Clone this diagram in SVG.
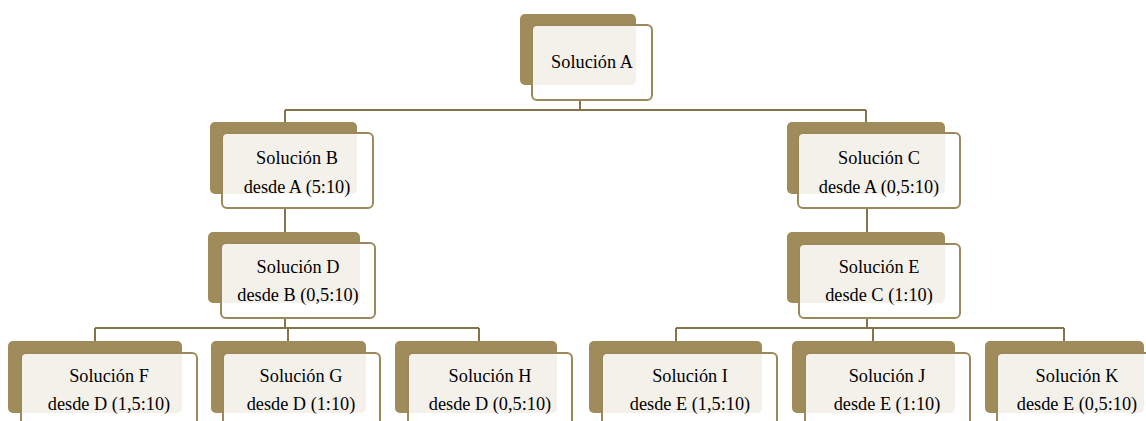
<svg xmlns="http://www.w3.org/2000/svg" width="1146" height="421" viewBox="0 0 1146 421">
<style>
.back{fill:#A08B5A;}
.front{fill:#FFFFFF;fill-opacity:0.88;stroke:#9C885A;stroke-width:2;}
.t{font-family:"Liberation Serif","Times New Roman","DejaVu Serif",serif;font-size:18.3px;fill:#000000;text-anchor:middle;}
.c{fill:none;stroke:#857349;stroke-width:2;}
</style>
<rect width="1146" height="421" fill="#FFFFFF"/>
<g id="connectors">
<path class="c" d="M580 100V110M285 110H866M285 110V133M866 110V133"/>
<path class="c" d="M285 208V242"/>
<path class="c" d="M867 208V244"/>
<path class="c" d="M285 318V328M95 328H479M95 328V353M288 328V353M479 328V353"/>
<path class="c" d="M867 318V328M676 328H1064M676 328V353M873 328V353M1064 328V353"/>
</g>
<g id="nodeA">
<rect class="back" x="520" y="14" width="116" height="71" rx="5"/>
<rect class="front" x="532" y="25" width="120" height="75" rx="5"/>
<text class="t" x="592" y="68">Solución A</text>
</g>
<g id="nodeB">
<rect class="back" x="210" y="122" width="147" height="72" rx="5"/>
<rect class="front" x="222" y="133" width="151" height="75" rx="5"/>
<text class="t" x="297" y="164">Solución B</text>
<text class="t" x="297" y="193">desde A (5:10)</text>
</g>
<g id="nodeC">
<rect class="back" x="787" y="122" width="158" height="72" rx="5"/>
<rect class="front" x="798" y="133" width="162" height="75" rx="5"/>
<text class="t" x="879" y="164">Solución C</text>
<text class="t" x="879" y="193">desde A (0,5:10)</text>
</g>
<g id="nodeD">
<rect class="back" x="208" y="232" width="152" height="71" rx="5"/>
<rect class="front" x="221" y="243" width="154" height="75" rx="5"/>
<text class="t" x="298" y="273">Solución D</text>
<text class="t" x="298" y="301">desde B (0,5:10)</text>
</g>
<g id="nodeE">
<rect class="back" x="787" y="232" width="158" height="71" rx="5"/>
<rect class="front" x="799" y="244" width="161" height="74" rx="5"/>
<text class="t" x="879" y="273">Solución E</text>
<text class="t" x="879" y="301">desde C (1:10)</text>
</g>
<g id="nodeF">
<rect class="back" x="8" y="341" width="174" height="72" rx="5"/>
<rect class="front" x="21" y="353" width="176" height="75" rx="5"/>
<text class="t" x="109" y="382">Solución F</text>
<text class="t" x="109" y="410">desde D (1,5:10)</text>
</g>
<g id="nodeG">
<rect class="back" x="211" y="341" width="155" height="72" rx="5"/>
<rect class="front" x="223" y="353" width="157" height="75" rx="5"/>
<text class="t" x="301" y="382">Solución G</text>
<text class="t" x="301" y="410">desde D (1:10)</text>
</g>
<g id="nodeH">
<rect class="back" x="395" y="341" width="162" height="72" rx="5"/>
<rect class="front" x="408" y="353" width="164" height="75" rx="5"/>
<text class="t" x="490" y="382">Solución H</text>
<text class="t" x="490" y="410">desde D (0,5:10)</text>
</g>
<g id="nodeI">
<rect class="back" x="589" y="341" width="173" height="72" rx="5"/>
<rect class="front" x="602" y="353" width="175" height="75" rx="5"/>
<text class="t" x="690" y="382">Solución I</text>
<text class="t" x="690" y="410">desde E (1,5:10)</text>
</g>
<g id="nodeJ">
<rect class="back" x="792" y="341" width="163" height="72" rx="5"/>
<rect class="front" x="805" y="353" width="165" height="75" rx="5"/>
<text class="t" x="887" y="382">Solución J</text>
<text class="t" x="887" y="410">desde E (1:10)</text>
</g>
<g id="nodeK">
<rect class="back" x="985" y="341" width="159" height="72" rx="5"/>
<rect class="front" x="997" y="353" width="160" height="75" rx="5"/>
<text class="t" x="1077" y="382">Solución K</text>
<text class="t" x="1077" y="410">desde E (0,5:10)</text>
</g>
</svg>
